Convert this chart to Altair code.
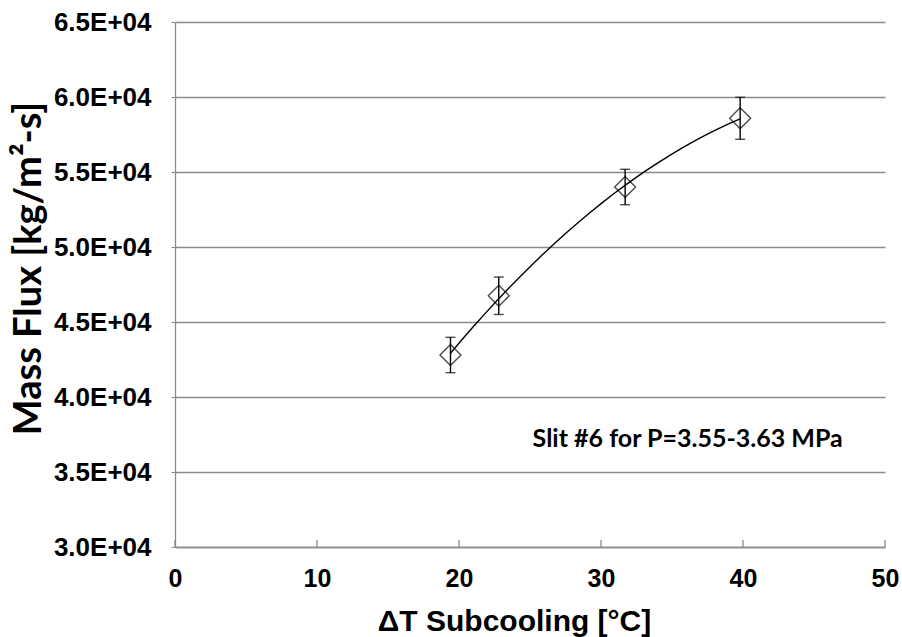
import altair as alt
import pandas as pd

# ---- data ----
subcooling = [19.4, 22.8, 31.7, 39.8]          # ΔT subcooling [°C]
mass_flux = [42800, 46750, 54000, 58580]       # kg/m²-s
flux_err = [1180, 1250, 1180, 1400]            # ± error bar half-length
x_tick_values = [0, 10, 20, 30, 40, 50]
y_tick_values = [30000, 35000, 40000, 45000, 50000, 55000, 60000, 65000]
note_text = "Slit #6 for P=3.55-3.63 MPa"
note_at = (36.1, 36650)

df = pd.DataFrame({
    "x": subcooling,
    "y": mass_flux,
    "lo": [m - e for m, e in zip(mass_flux, flux_err)],
    "hi": [m + e for m, e in zip(mass_flux, flux_err)],
})
ticks_df = pd.DataFrame({"t": x_tick_values})

W, H = 710, 525
GRAY = "#8a8a8a"

xs = alt.Scale(domain=[0, 50], nice=False, zero=False)
ys = alt.Scale(domain=[30000, 65000], nice=False, zero=False)

x_axis = alt.Axis(
    values=x_tick_values, grid=False, ticks=False, tickSize=0,
    labelPadding=19, labelFlush=False, labelFont="Liberation Sans",
    labelFontWeight="bold", labelFontSize=25, labelColor="black",
    domainColor=GRAY, domainWidth=1.3,
    title="ΔT Subcooling [°C]", titleFont="Liberation Sans", titleFontWeight="bold",
    titleFontSize=30, titleColor="black", titleX=339, titleY=83,
    titleAlign="center", titleBaseline="alphabetic",
)
y_axis = alt.Axis(
    values=y_tick_values, grid=True, gridColor=GRAY, gridWidth=1.3,
    tickSize=4, tickColor=GRAY, labelPadding=20, labelFlush=False,
    labelExpr="format(datum.value / 10000, '.1f') + 'E+04'",
    labelFont="Liberation Sans", labelFontWeight="bold", labelFontSize=26,
    labelColor="black", domainColor=GRAY, domainWidth=1.3,
    title="Mass Flux [kg/m²-s]", titleFont="Lato", titleFontWeight="bold",
    titleFontSize=38, titleColor="black", titleAngle=270, titleX=-146, titleY=246,
    titleAlign="center", titleBaseline="middle",
)

X = alt.X("x:Q", scale=xs, axis=x_axis)
Y = alt.Y("y:Q", scale=ys, axis=y_axis)

base = alt.Chart(df)

trend = base.transform_regression(
    "x", "y", method="poly", order=2, extent=[subcooling[0], subcooling[-1]]
).mark_line(color="black", strokeWidth=1.4).encode(x=X, y=Y)

bars = base.mark_rule(color="black", strokeWidth=1.4).encode(
    x=X, y=alt.Y("lo:Q", scale=ys, axis=y_axis), y2="hi:Q"
)
cap_lo = base.mark_tick(color="black", orient="horizontal", size=10, thickness=1.4).encode(
    x=X, y=alt.Y("lo:Q", scale=ys, axis=y_axis)
)
cap_hi = base.mark_tick(color="black", orient="horizontal", size=10, thickness=1.4).encode(
    x=X, y=alt.Y("hi:Q", scale=ys, axis=y_axis)
)
points = base.mark_point(shape="diamond", size=440, filled=False, color="black",
                         strokeWidth=1.4).encode(x=X, y=Y)

note = alt.Chart(pd.DataFrame({"label": [note_text]})).mark_text(
    font="Lato", fontWeight="bold", fontSize=25, color="black",
    align="center", baseline="alphabetic",
).encode(
    x=alt.X("nx:Q", scale=xs, axis=x_axis),
    y=alt.Y("ny:Q", scale=ys, axis=y_axis),
    text="label:N",
).transform_calculate(nx=str(note_at[0]), ny=str(note_at[1]))

xticks = alt.Chart(ticks_df).mark_rule(color=GRAY, strokeWidth=1.3).encode(
    x=alt.X("t:Q", scale=xs, axis=x_axis),
    y=alt.value(H - 7), y2=alt.value(H),
)

chart = alt.layer(xticks, trend, bars, cap_lo, cap_hi, points, note).properties(
    width=W, height=H,
    padding={"left": 175, "top": 22, "right": 17, "bottom": 90},
    autosize=alt.AutoSizeParams(type="none"),
    background="white",
).configure_view(stroke=None)

chart.save("out.html", embed_options={"renderer": "svg", "actions": False})
